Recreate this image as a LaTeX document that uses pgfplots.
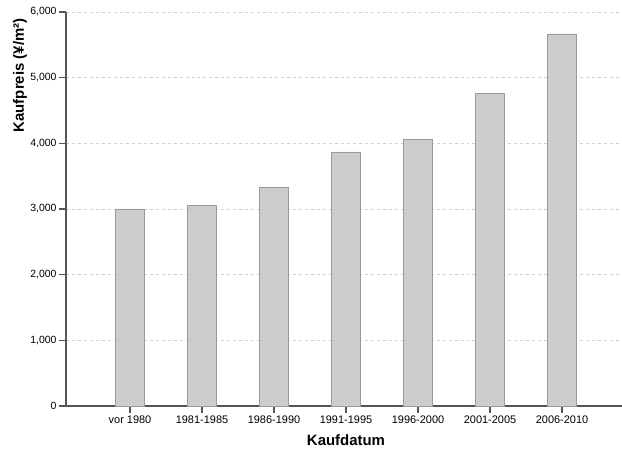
\documentclass[border=0pt]{standalone}
\usepackage{pgfplots}
\pgfplotsset{compat=1.18}
\usepackage{fontspec}
\setmainfont{Liberation Sans}
\usetikzlibrary{calc}

\definecolor{barfill}{HTML}{CCCCCC}
\definecolor{baredge}{HTML}{9A9A9A}
\definecolor{axisgray}{HTML}{555555}
\definecolor{gridgray}{HTML}{CFCFCF}

\pgfplotstableread{
x  price
0  3000
1  3055
2  3335
3  3868
4  4066
5  4765
6  5665
}\kaufpreis

\begin{document}
\begin{tikzpicture}
\begin{axis}[
    name=ax,
    scale only axis,
    width=556bp, height=394bp,
    ybar, bar width=28.7bp, bar shift=0pt,
    xmin=-0.889, xmax=6.833,
    ymin=0, ymax=6000,
    axis x line*=bottom, axis y line*=left,
    axis line style={axisgray, line width=1.4pt, -},
    xtick=data,
    xticklabels={vor 1980,1981-1985,1986-1990,1991-1995,1996-2000,2001-2005,2006-2010},
    ytick={0,1000,...,6000},
    tick align=outside,
    major tick length=7bp,
    tick style={axisgray, line width=1.1pt},
    x tick label style={font=\fontsize{11}{12}\selectfont, yshift=1bp},
    y tick label style={font=\fontsize{10.5}{12}\selectfont, xshift=1bp},
    /pgf/number format/assume math mode=true,
    /pgf/number format/.cd, 1000 sep={,}, /pgfplots/.cd,
    scaled y ticks=false,
    ymajorgrids,
    major grid style={gridgray, dashed, line width=0.6pt},
    xlabel={Kaufdatum},
    xlabel style={font=\fontsize{15}{18}\selectfont\bfseries, at={(axis description cs:0,0)}, anchor=north, xshift=280bp, yshift=-25bp},
    ylabel={Kaufpreis (¥/m²)},
    ylabel style={font=\fontsize{15}{18}\selectfont\bfseries, at={(axis description cs:0,1)}, anchor=east, yshift=46bp, xshift=-3bp},
    clip=false,
]
\addplot[fill=barfill, draw=baredge, line width=0.9pt] table[x=x, y=price] {\kaufpreis};
\end{axis}
\pgfresetboundingbox
\path[use as bounding box] ($(ax.south west)+(-66bp,-49bp)$) rectangle ($(ax.north east)+(0,12bp)$);
\end{tikzpicture}
\end{document}
